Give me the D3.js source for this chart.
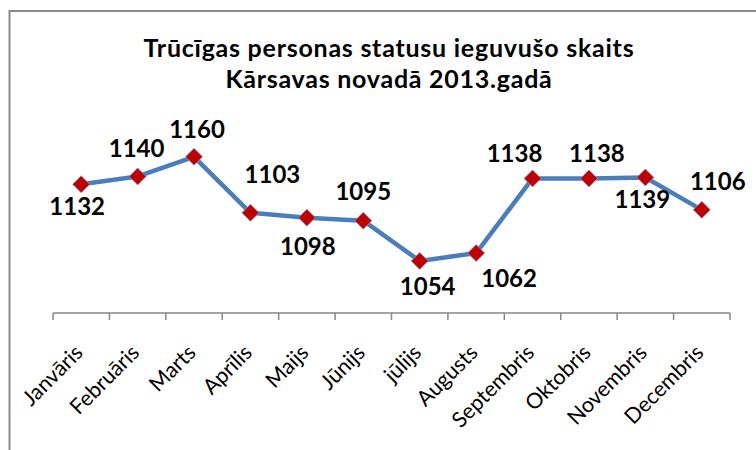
<!DOCTYPE html>
<html>
<head>
    <meta charset="utf-8">
    <title>Trūcīgas personas</title>
    <script src="https://cdn.jsdelivr.net/npm/d3@7"></script>
    <style>
        body { margin: 0; background: #fff; }
    </style>
</head>
<body>
    <div id="chart"></div>
    <script>
        // data
        var months = ["Janvāris", "Februāris", "Marts", "Aprīlis", "Maijs", "Jūnijs",
                      "jūlijs", "Augusts", "Septembris", "Oktobris", "Novembris", "Decembris"];
        var counts = [1132, 1140, 1160, 1103, 1098, 1095, 1054, 1062, 1138, 1138, 1139, 1106];
        var titleLines = ["Trūcīgas personas statusu ieguvušo skaits", "Kārsavas novadā 2013.gadā"];

        // where each data label sits relative to its marker (dx, baseline dy)
        var labelOffsets = [[-4, 31], [-1, -19], [3, -19], [22, -30], [1, 37], [0, -21],
                            [8, 34], [33, 34], [-18, -16], [8, -16], [-3, 31], [16, -20]];

        var width = 756, height = 450;

        var svg = d3.select("#chart").append("svg")
            .attr("width", width)
            .attr("height", height);

        // chart frame (only left and top edges are inside the picture)
        svg.append("rect")
            .attr("x", 9.5)
            .attr("y", 11)
            .attr("width", 800)
            .attr("height", 500)
            .attr("fill", "#fff")
            .attr("stroke", "#8a8a8a")
            .attr("stroke-width", 2);

        var x = d3.scaleBand().domain(months).range([53, 730]);
        var y = d3.scaleLinear().domain([1000, 1200]).range([314, 117.5]);

        // title
        svg.append("g").selectAll("text")
            .data(titleLines)
            .join("text")
            .attr("x", 389)
            .attr("y", function(d, i) { return 57 + i * 31; })
            .attr("text-anchor", "middle")
            .style("font-family", "Lato, sans-serif")
            .style("font-weight", "bold")
            .style("font-size", "25px")
            .style("letter-spacing", "0.75px")
            .style("fill", "#000")
            .text(function(d) { return d; });

        // category axis
        var xAxis = d3.axisBottom(x).tickSize(0).tickPadding(0);
        var axisG = svg.append("g")
            .attr("transform", "translate(0,313)")
            .call(xAxis);
        axisG.select(".domain")
            .attr("d", "M" + x.range()[0] + ",0H" + x.range()[1])
            .attr("stroke", "#868686")
            .attr("stroke-width", 1.5);
        axisG.selectAll(".tick text")
            .attr("transform", "translate(3,41) rotate(-45)")
            .attr("dy", 0)
            .attr("y", 0)
            .style("text-anchor", "end")
            .style("font-family", "Lato, sans-serif")
            .style("font-size", "21.5px")
            .style("fill", "#000");

        // tick marks between the categories
        var edges = months.map(function(m) { return x(m); }).concat([x.range()[1]]);
        axisG.selectAll(".edge")
            .data(edges)
            .join("line")
            .attr("class", "edge")
            .attr("x1", function(d) { return d; })
            .attr("x2", function(d) { return d; })
            .attr("y1", 0)
            .attr("y2", 7)
            .attr("stroke", "#868686")
            .attr("stroke-width", 1.5);

        var pts = months.map(function(m, i) {
            return { month: m, value: counts[i], off: labelOffsets[i] };
        });
        var cx = function(d) { return x(d.month) + x.bandwidth() / 2; };

        var line = d3.line()
            .x(cx)
            .y(function(d) { return y(d.value); });

        svg.append("path")
            .datum(pts)
            .attr("fill", "none")
            .attr("stroke", "#4a7ebb")
            .attr("stroke-width", 4.5)
            .attr("stroke-linejoin", "round")
            .attr("d", line);

        var r = 8.5;
        svg.append("g").selectAll("path")
            .data(pts)
            .join("path")
            .attr("transform", function(d) { return "translate(" + cx(d) + "," + y(d.value) + ")"; })
            .attr("d", "M0," + (-r) + "L" + r + ",0L0," + r + "L" + (-r) + ",0Z")
            .attr("fill", "#c00000")
            .attr("stroke", "#7d97c8")
            .attr("stroke-width", 0.8);

        // data labels
        svg.append("g").selectAll("text")
            .data(pts)
            .join("text")
            .attr("x", function(d) { return cx(d) + d.off[0]; })
            .attr("y", function(d) { return y(d.value) + d.off[1]; })
            .attr("text-anchor", "middle")
            .style("font-family", "Lato, sans-serif")
            .style("font-weight", "bold")
            .style("font-size", "24px")
            .style("fill", "#000")
            .text(function(d) { return d.value; });
    </script>
</body>
</html>
